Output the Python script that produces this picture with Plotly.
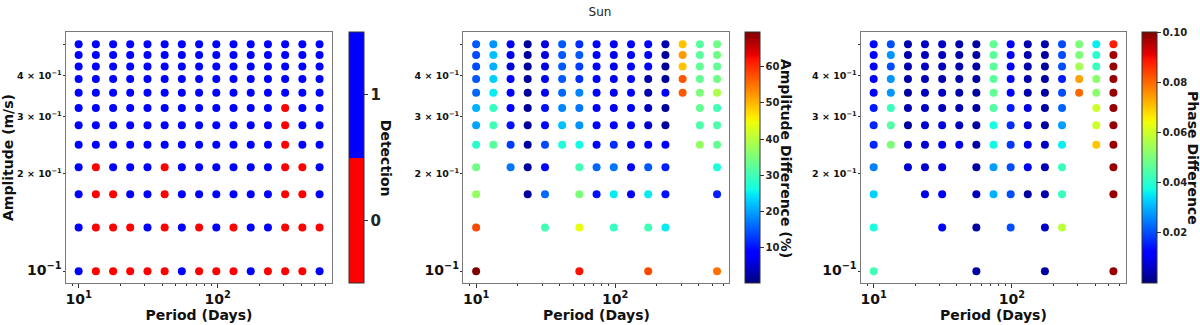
import plotly.graph_objects as go

# ---------------- data ----------------
periods = [10.0, 13.3, 17.7, 23.5, 31.3, 41.6, 55.3, 73.6, 97.9, 130.2, 173.2, 230.4, 306.4, 407.6, 542.1]
# amplitude rows, top to bottom
amplitudes = [0.5, 0.4636, 0.4273, 0.3909, 0.3545, 0.3182, 0.2818, 0.2455, 0.2091, 0.1727, 0.1364, 0.1]

N = None
detection = [
    [1, 1, 1, 1, 1, 1, 1, 1, 1, 1, 1, 1, 1, 1, 1],
    [1, 1, 1, 1, 1, 1, 1, 1, 1, 1, 1, 1, 1, 1, 1],
    [1, 1, 1, 1, 1, 1, 1, 1, 1, 1, 1, 1, 1, 1, 1],
    [1, 1, 1, 1, 1, 1, 1, 1, 1, 1, 1, 1, 1, 1, 1],
    [1, 1, 1, 1, 1, 1, 1, 1, 1, 1, 1, 1, 1, 1, 1],
    [1, 1, 1, 1, 1, 1, 1, 1, 1, 1, 1, 1, 0, 1, 1],
    [1, 1, 1, 1, 1, 1, 1, 1, 1, 1, 1, 1, 0, 1, 1],
    [1, 1, 1, 1, 1, 1, 1, 1, 1, 1, 1, 1, 0, 1, 1],
    [1, 0, 1, 1, 1, 0, 1, 1, 1, 1, 1, 1, 0, 0, 1],
    [1, 0, 0, 1, 1, 0, 1, 1, 1, 1, 1, 1, 0, 0, 1],
    [1, 0, 0, 0, 1, 0, 1, 0, 1, 0, 1, 1, 0, 0, 0],
    [1, 0, 0, 0, 0, 0, 1, 0, 0, 0, 1, 0, 0, 0, 1],
]

amp_diff = [
    [15, 19, 7, 2, 6, 15, 12, 8, 7, 9, 8, 3, 49, 32, 34],
    [14, 22, 7, 2, 6, 15, 15, 8, 7, 9, 8, 2, 52, 32, 34],
    [14, 21, 6, 2, 6, 15, 13, 8, 7, 9, 8, 2, 49, 33, 33],
    [15, 23, 8, 2, 7, 15, 12, 8, 7, 9, 3, 2, 57, 33, 34],
    [16, 25, 8, 2, 7, 16, 18, 8, 7, 9, 3, 8, 57, 35, 39],
    [21, 29, 8, 2, 10, 18, 17, 8, 7, 8, 4, 2, N, 33, 30],
    [20, 30, 10, 2, 9, 22, 19, 8, 8, 9, 5, 2, N, 31, 31],
    [28, 32, 13, 2, 14, 27, 26, 9, 12, 8, 8, 8, N, 37, 33],
    [34, N, 17, 2, 9, N, 30, 16, 17, 9, 15, 11, N, N, 27],
    [37, N, N, 2, 16, N, 35, 10, 25, 8, 25, 10, N, N, 11],
    [58, N, N, N, 30, N, 44, N, 29, N, 30, 25, N, N, N],
    [69.5, N, N, N, N, N, 62, N, N, N, 58, N, N, N, 55],
]

phase_diff = [
    [.013, .020, .004, .006, .006, .004, .003, .047, .011, .004, .004, .020, .050, .036, .088],
    [.012, .027, .004, .005, .005, .004, .003, .046, .011, .004, .003, .020, .050, .040, .097],
    [.012, .020, .004, .006, .005, .004, .003, .046, .011, .004, .003, .020, .055, .042, .098],
    [.012, .027, .004, .005, .004, .004, .003, .046, .011, .004, .003, .015, .074, .052, .098],
    [.012, .027, .003, .005, .006, .004, .003, .047, .011, .004, .003, .020, .080, .052, .098],
    [.015, .042, .004, .006, .005, .004, .003, .045, .015, .009, .003, .022, N, .060, .098],
    [.016, .045, .003, .007, .008, .006, .003, .038, .017, .007, .003, .028, N, .060, .098],
    [.016, .050, .006, .007, .009, .009, .003, .037, .018, .009, .006, .036, N, .070, .098],
    [.025, N, .007, .007, .008, N, .003, .028, .020, .010, .005, .042, N, N, .098],
    [.033, N, N, .009, .010, N, .005, .030, .020, .003, .004, .042, N, N, .098],
    [.038, N, N, N, .011, N, .003, N, .020, N, .006, .058, N, N, N],
    [.043, N, N, N, N, N, .003, N, N, N, .003, N, N, N, .098],
]

x_tick_vals = [10, 100]
x_tick_text = ["10<sup>1</sup>", "10<sup>2</sup>"]
x_minor_vals = [9, 20, 30, 40, 50, 60, 70, 80, 90, 200, 300, 400, 500, 600]
y_tick_vals = [0.1, 0.2, 0.3, 0.4, 0.5]
y_tick_text = ["<span style='font-size:14px'>10<sup>−1</sup></span>",
               "2 × 10<sup>−1</sup>", "3 × 10<sup>−1</sup>", "4 × 10<sup>−1</sup>", ""]

# matplotlib "jet"
jet = [
    [0.0, "rgb(0,0,128)"], [0.11, "rgb(0,0,255)"], [0.125, "rgb(0,0,255)"],
    [0.34, "rgb(0,219,255)"], [0.35, "rgb(0,229,247)"], [0.375, "rgb(20,255,226)"],
    [0.64, "rgb(238,255,8)"], [0.65, "rgb(247,245,0)"], [0.66, "rgb(255,236,0)"],
    [0.89, "rgb(255,19,0)"], [0.91, "rgb(232,0,0)"], [1.0, "rgb(128,0,0)"],
]
det_scale = [[0, "rgb(255,0,0)"], [0.5, "rgb(255,0,0)"], [0.5, "rgb(0,0,255)"], [1, "rgb(0,0,255)"]]

FONT = "DejaVu Sans"
ML, MR, MT, MB = 65.7, 44.0, 31.7, 41.7
W_PLOT, H_PLOT = 1200 - ML - MR, 325 - MT - MB


def px_x(p):
    return (p - ML) / W_PLOT


def px_y(p):
    return (MT + H_PLOT - p) / H_PLOT


def clamp(v):
    return min(1.0, max(0.0, v))


def flatten(grid):
    xs, ys, cs = [], [], []
    for i, amp in enumerate(amplitudes):
        for j, per in enumerate(periods):
            v = grid[i][j]
            if v is not None:
                xs.append(per)
                ys.append(amp)
                cs.append(v)
    return xs, ys, cs


fig = go.Figure()

panels = [
    dict(grid=detection, scale=det_scale, cmin=-0.5, cmax=1.5, cbx=348.3,
         tickvals=[0, 1], ticktext=["0", "1"], tfs=15,
         dom=(65.7, 331.7), title="Detection", tx=386),
    dict(grid=amp_diff, scale=jet, cmin=0.3, cmax=69.5, cbx=745.0,
         tickvals=[10, 20, 30, 40, 50, 60], ticktext=["10", "20", "30", "40", "50", "60"], tfs=10,
         dom=(463.3, 729.3), title="Amplitude Difference (%)", tx=786),
    dict(grid=phase_diff, scale=jet, cmin=0.0, cmax=0.1, cbx=1141.7,
         tickvals=[0.02, 0.04, 0.06, 0.08, 0.10], ticktext=["0.02", "0.04", "0.06", "0.08", "0.10"], tfs=10,
         dom=(861.0, 1125.7), title="Phase Difference", tx=1193),
]

annotations = []
for k, p in enumerate(panels):
    xs, ys, cs = flatten(p["grid"])
    suffix = "" if k == 0 else str(k + 1)
    fig.add_trace(go.Scatter(
        x=xs, y=ys, mode="markers",
        xaxis="x" + suffix, yaxis="y" + suffix,
        marker=dict(
            size=8, color=cs, colorscale=p["scale"], cmin=p["cmin"], cmax=p["cmax"],
            line=dict(width=0),
            colorbar=dict(
                x=px_x(p["cbx"]), xanchor="left", xpad=0, ypad=0,
                y=0.5, yanchor="middle", lenmode="pixels", len=251, thickness=14.5,
                outlinewidth=1, outlinecolor="#333",
                tickmode="array", tickvals=p["tickvals"], ticktext=p["ticktext"],
                ticks="outside", ticklen=3.5, tickwidth=1, tickcolor="#333",
                tickfont=dict(family=FONT, size=p["tfs"], color="#222", weight="bold"),
            ),
        ),
        showlegend=False,
    ))
    xa = dict(
        type="log", range=[0.909, 2.823], domain=[clamp(px_x(p["dom"][0])), clamp(px_x(p["dom"][1]))],
        anchor="y" + suffix, automargin=False,
        showgrid=False, zeroline=False, showline=True, mirror=True, linecolor="#7a7a7a", linewidth=1,
        tickmode="array", tickvals=x_tick_vals, ticktext=x_tick_text,
        ticks="outside", ticklen=3.5, tickwidth=1, tickcolor="#333",
        minor=dict(tickmode="array", tickvals=x_minor_vals, ticks="outside", ticklen=2, tickwidth=0.8, tickcolor="#333"),
        tickfont=dict(family=FONT, size=14, color="#111", weight="bold"),
        title=dict(text="Period (Days)", standoff=3,
                   font=dict(family=FONT, size=14, color="#111", weight="bold")),
    )
    ya = dict(
        type="log", range=[-1.036, -0.263], domain=[0, 1], anchor="x" + suffix, automargin=False,
        showgrid=False, zeroline=False, showline=True, mirror=True, linecolor="#7a7a7a", linewidth=1,
        tickmode="array", tickvals=y_tick_vals, ticktext=y_tick_text,
        ticks="outside", ticklen=2.5, tickwidth=1, tickcolor="#333", ticklabelstandoff=-1,
        tickfont=dict(family=FONT, size=9.5, color="#111", weight="bold"),
    )
    if k == 0:
        ya["title"] = dict(text="Amplitude (m/s)", standoff=6,
                           font=dict(family=FONT, size=14, color="#111", weight="bold"))
    fig.update_layout(**{"xaxis" + suffix: xa, "yaxis" + suffix: ya})
    annotations.append(dict(
        text=p["title"], xref="paper", yref="paper", x=px_x(p["tx"]), y=px_y(158),
        xanchor="center", yanchor="middle", showarrow=False, textangle=90,
        font=dict(family=FONT, size=14, color="#111", weight="bold"),
    ))

fig.update_layout(
    template="none",
    width=1200, height=325,
    margin=dict(l=ML, r=MR, t=MT, b=MB, autoexpand=False),
    paper_bgcolor="white", plot_bgcolor="white",
    title=dict(text="Sun", x=0.5, xref="container", xanchor="center",
               y=1 - 12 / 325, yref="container", yanchor="middle",
               font=dict(family=FONT, size=12, color="#222")),
    annotations=annotations,
    font=dict(family=FONT),
)

fig.write_html("out.html", config={"displayModeBar": False},
               post_script="document.body.style.margin='0';document.body.style.overflow='hidden';")
